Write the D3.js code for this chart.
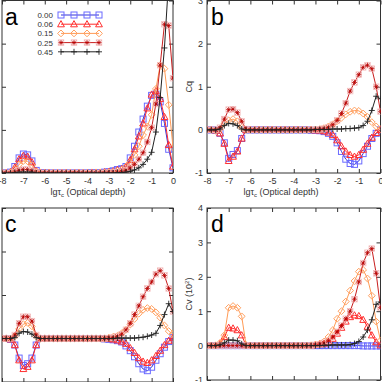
<!DOCTYPE html>
<html lang="en">
<head>
<meta charset="UTF-8">
<title>Optical depth panels</title>
<script src="https://cdn.jsdelivr.net/npm/d3@7"></script>
<style>
  body { margin: 0; background: #fff; }
  svg { display: block; font-family: "Liberation Sans", Arial, sans-serif; }
  .axis text { fill: #333; font-size: 9px; }
  .axis line { stroke: #333; }
</style>
</head>
<body>
<div id="container"></div>
<script>
// x grid (lg tau_c)
const lgTau = [-8,-7.8,-7.6,-7.4,-7.2,-7,-6.8,-6.6,-6.4,-6.2,-6,-5.8,-5.6,-5.4,-5.2,-5,-4.8,-4.6,-4.4,-4.2,
               -4,-3.8,-3.6,-3.4,-3.2,-3,-2.8,-2.6,-2.4,-2.2,-2,-1.8,-1.6,-1.4,-1.2,-1,-0.8,-0.6,-0.4,-0.2,0];
const seriesNames = ["0.00","0.06","0.15","0.25","0.45"];
const xTicks = [-8,-7,-6,-5,-4,-3,-2,-1,0];
const yTicksA = [0,1,2,3,4];
const yTicksBC = [-1,0,1,2,3];
const yTicksD = [-1,0,1,2,3,4];

// panel a
const a000 = [0,0,0.02,0.15,0.35,0.44,0.42,0.28,0.06,0.01, 0,0,0,0,0,0,0,0,0,0,
              0,0.01,0.01,0.01,0.02,0.03,0.05,0.08,0.1,0.15, 0.35,0.62,0.95,1.25,1.55,1.8,1.83,1.65,1.15,0.55, 0.12];
const a006 = [0,0,0.02,0.13,0.32,0.4,0.38,0.25,0.05,0.01, 0,0,0,0,0,0,0,0,0,0,
              0,0.01,0.01,0.01,0.02,0.03,0.04,0.07,0.09,0.14, 0.3,0.55,0.85,1.15,1.5,1.82,1.9,1.72,1.3,0.65, 0.15];
const a015 = [0,0,0.01,0.08,0.2,0.28,0.27,0.18,0.04,0.01, 0,0,0,0,0,0,0,0,0,0,
              0,0,0.01,0.01,0.01,0.02,0.03,0.05,0.08,0.15, 0.25,0.42,0.62,0.88,1.08,1.35,1.95,2.5,2.42,1.58, 0.6];
const a025 = [0,0,0,0.02,0.06,0.08,0.08,0.05,0.01,0, 0,0,0,0,0,0,0,0,0,0,
              0,0,0,0,0,0.01,0.01,0.02,0.03,0.06, 0.12,0.2,0.32,0.47,0.72,1.05,1.6,2.5,3.45,3.42, 2.2];
const a045 = [0,0,0,0.01,0.02,0.02,0.02,0.02,0,0, 0,0,0,0,0,0,0,0,0,0,
              0,0,0,0,0,0,0,0.01,0.01,0.02, 0.04,0.07,0.12,0.2,0.32,0.48,0.95,1.75,2.9,4.5, 6];

// panel b (Cq)
const b000 = [0,0,-0.01,-0.08,-0.3,-0.66,-0.57,-0.48,-0.2,0, 0,0,0,0,0,0,0,0,0,0,
              0,0,0,0,-0.01,-0.01,-0.02,-0.04,-0.08,-0.15, -0.3,-0.5,-0.68,-0.78,-0.8,-0.72,-0.55,-0.38,-0.2,-0.08, 0];
const b006 = [0,0,-0.01,-0.08,-0.32,-0.72,-0.62,-0.5,-0.2,0, 0,0,0,0,0,0,0,0,0,0,
              0,0,0,0,0,-0.01,-0.01,-0.03,-0.06,-0.12, -0.24,-0.38,-0.5,-0.58,-0.62,-0.58,-0.46,-0.32,-0.18,-0.07, 0];
const b015 = [0,0,-0.02,0.02,0.15,0.22,0.25,0.2,0.05,0, 0,0,0,0,0,0,0,0,0,0,
              0,0,0,0,0,0.01,0.02,0.04,0.08,0.13, 0.2,0.28,0.36,0.42,0.45,0.44,0.38,0.3,0.18,0.08, 0.02];
const b025 = [0,0,0,0.05,0.25,0.47,0.48,0.4,0.2,0.02, 0,0,0,0,0,0,0,0,0,0,
              0,0,0,0,0,0,0.01,0.03,0.06,0.12, 0.22,0.38,0.62,0.9,1.1,1.28,1.45,1.5,1.42,1, 0.42];
const b045 = [0,0,0,0.02,0.1,0.15,0.14,0.1,0.02,0, 0,0,0,0,0,0,0,0,0,0,
              0,0,0,0,0,0.01,0.01,0.01,0.01,0.02, 0.02,0.02,0.03,0.03,0.04,0.05,0.1,0.2,0.45,0.78, 0.72];

// panel c
const c000 = [0,0,-0.02,-0.15,-0.45,-0.62,-0.58,-0.45,-0.15,0, 0,0,0,0,0,0,0,0,0,0,
              0,0,0,0,-0.01,-0.02,-0.03,-0.05,-0.08,-0.17, -0.28,-0.42,-0.58,-0.7,-0.74,-0.66,-0.5,-0.35,-0.2,-0.07, 0.02];
const c006 = [0,0,-0.02,-0.15,-0.5,-0.7,-0.65,-0.5,-0.15,0, 0,0,0,0,0,0,0,0,0,0,
              0,0,0,0,0,-0.01,-0.02,-0.04,-0.07,-0.12, -0.22,-0.33,-0.45,-0.53,-0.56,-0.5,-0.4,-0.28,-0.15,-0.05, 0.02];
const c015 = [0,0,0,0.05,0.22,0.33,0.36,0.28,0.05,0, 0,0,0,0,0,0,0,0,0,0,
              0,0,0,0,0,0.02,0.04,0.06,0.12,0.2, 0.32,0.45,0.57,0.66,0.7,0.68,0.6,0.48,0.3,0.17, 0.1];
const c025 = [0,0,0,0.08,0.35,0.5,0.5,0.4,0.08,0, 0,0,0,0,0,0,0,0,0,0,
              0,0,0,0,0,0.01,0.02,0.05,0.1,0.2, 0.35,0.55,0.75,0.96,1.15,1.3,1.48,1.56,1.45,1.15, 0.62];
const c045 = [0,0,0,0.02,0.12,0.16,0.15,0.1,0.02,0, 0,0,0,0,0,0,0,0,0,0,
              0,0,0,0,0,0,0,0.01,0.01,0.01, 0.01,0.01,0.02,0.03,0.05,0.08,0.12,0.3,0.55,0.8, 0.62];

// panel d (Cv, 10^2)
const d000 = [0,0,0,0,0,0,0,0,0,0, 0,0,0,0,0,0,0,0,0,0,
              0,0,0,0,0,0,0,0,0,0, 0,0,0,0,0,0,-0.01,-0.01,-0.01,-0.01, -0.01];
const d006 = [0,0,0,0.05,0.25,0.52,0.5,0.45,0.3,0, 0,0,0,0,0,0,0,0,0,0,
              0,0,0,0,0,0.02,0.04,0.06,0.12,0.2, 0.35,0.52,0.7,0.83,0.88,0.86,0.75,0.55,0.3,0.1, 0.01];
const d015 = [0,0,0.01,0.08,0.3,1.1,1.15,1.1,0.85,0.02, 0,0,0,0,0,0,0,0,0,0,
              0,0,0,0,0.01,0.03,0.06,0.12,0.25,0.45, 0.78,1,1.28,1.6,1.88,2.15,2.2,1.95,1.45,0.7, 0.15];
const d025 = [0,0,0,0,0,0,0,0,0,0, 0,0,0,0,0,0,0,0,0,0,
              0,0,0,0,0,0.02,0.04,0.08,0.14,0.25, 0.4,0.58,0.78,1,1.35,1.85,2.4,2.7,2.82,2.1, 1.1];
const d045 = [0,0,0,0.02,0.08,0.16,0.16,0.14,0.05,0, 0,0,0,0,0,0,0,0,0,0,
              0,0,0,0,0,0,0,0.01,0.01,0.02, 0.02,0.02,0.02,0.03,0.06,0.12,0.25,0.45,0.75,1.2, 1.27];

// series styles, same order as seriesNames
const styles = [
  {line: "#3232d8", mark: "#6a6aff", shape: "square"},
  {line: "#ff2a2a", mark: "#ff3030", shape: "triangle"},
  {line: "#ff9a55", mark: "#ffa060", shape: "diamond"},
  {line: "#c81e1e", mark: "#b80000", shape: "asterisk"},
  {line: "#222222", mark: "#222222", shape: "plus"}
];

const width = 382, height = 382;
const svg = d3.select("#container").append("svg")
    .attr("width", width).attr("height", height);

// only b and d show their y tick labels, only a and b their x tick labels
const panels = [
  {id: "a", left: 2, right: 173, top: 0.5, bottom: 173, yDomain: [0, 4], yTicks: yTicksA,
   series: [a000, a006, a015, a025, a045], xLabel: true, xLabelX: 88, legend: true, xNums: true, yNums: false},
  {id: "b", left: 207, right: 380.5, top: 0.5, bottom: 173, yDomain: [-1, 3], yTicks: yTicksBC,
   series: [b000, b006, b015, b025, b045], xLabel: true, xLabelX: 281, yLabel: "Cq", xNums: true, yNums: true},
  {id: "c", left: 2, right: 173, top: 208, bottom: 382, yDomain: [-1, 3], yTicks: yTicksBC,
   series: [c000, c006, c015, c025, c045], xNums: false, yNums: false},
  {id: "d", left: 207, right: 380.5, top: 208, bottom: 380, yDomain: [-1, 4], yTicks: yTicksD,
   series: [d000, d006, d015, d025, d045], yLabel: "Cv", xNums: false, yNums: true}
];

function drawMarker(g, shape, color, cx, cy) {
  if (shape === "square") {
    g.append("rect").attr("x", cx - 3).attr("y", cy - 3).attr("width", 6).attr("height", 6)
      .attr("fill", "none").attr("stroke", color).attr("stroke-width", 1);
  } else if (shape === "triangle") {
    g.append("path").attr("d", `M${cx},${cy - 3.6}L${cx + 3.4},${cy + 2.6}L${cx - 3.4},${cy + 2.6}Z`)
      .attr("fill", "none").attr("stroke", color).attr("stroke-width", 1);
  } else if (shape === "diamond") {
    g.append("path").attr("d", `M${cx},${cy - 3.4}L${cx + 3.4},${cy}L${cx},${cy + 3.4}L${cx - 3.4},${cy}Z`)
      .attr("fill", "none").attr("stroke", color).attr("stroke-width", 1);
  } else if (shape === "asterisk") {
    g.append("rect").attr("x", cx - 2.8).attr("y", cy - 2.8).attr("width", 5.6).attr("height", 5.6)
      .attr("fill", "none").attr("stroke", "#f4b4b4").attr("stroke-width", 0.7);
    g.append("path").attr("d", `M${cx - 2.5},${cy}H${cx + 2.5}M${cx},${cy - 2.5}V${cy + 2.5}M${cx - 1.9},${cy - 1.9}L${cx + 1.9},${cy + 1.9}M${cx - 1.9},${cy + 1.9}L${cx + 1.9},${cy - 1.9}`)
      .attr("stroke", color).attr("stroke-width", 0.8);
  } else {
    g.append("path").attr("d", `M${cx - 3},${cy}H${cx + 3}M${cx},${cy - 3}V${cy + 3}`)
      .attr("stroke", color).attr("stroke-width", 0.9);
  }
}

panels.forEach(p => {
  const xScale = d3.scaleLinear().domain([-8, 0]).range([p.left, p.right]);
  const yScale = d3.scaleLinear().domain(p.yDomain).range([p.bottom, p.top]);

  svg.append("clipPath").attr("id", "clip-" + p.id)
    .append("rect").attr("x", p.left).attr("y", p.top)
    .attr("width", p.right - p.left).attr("height", p.bottom - p.top);

  // axes: ticks point inward on all four sides
  const bottomAxis = svg.append("g").attr("class", "axis")
      .attr("transform", `translate(0,${p.bottom})`)
      .call(d3.axisBottom(xScale).tickValues(xTicks).tickSize(-4).tickSizeOuter(0)
        .tickPadding(5).tickFormat(d => p.xNums ? String(d) : ""));
  const topAxis = svg.append("g").attr("class", "axis")
      .attr("transform", `translate(0,${p.top})`)
      .call(d3.axisTop(xScale).tickValues(xTicks).tickSize(-4).tickSizeOuter(0).tickFormat(""));
  const leftAxis = svg.append("g").attr("class", "axis")
      .attr("transform", `translate(${p.left},0)`)
      .call(d3.axisLeft(yScale).tickValues(p.yTicks).tickSize(-4).tickSizeOuter(0)
        .tickPadding(4).tickFormat(d => p.yNums ? String(d) : ""));
  const rightAxis = svg.append("g").attr("class", "axis")
      .attr("transform", `translate(${p.right},0)`)
      .call(d3.axisRight(yScale).tickValues(p.yTicks).tickSize(-4).tickSizeOuter(0).tickFormat(""));
  [bottomAxis, topAxis, leftAxis, rightAxis].forEach(ax => ax.select(".domain").remove());

  // frame
  svg.append("rect").attr("x", p.left).attr("y", p.top)
    .attr("width", p.right - p.left).attr("height", p.bottom - p.top)
    .attr("fill", "none").attr("stroke", "#333").attr("stroke-width", 1);

  // series
  const plot = svg.append("g").attr("clip-path", `url(#clip-${p.id})`);
  const lineGen = d3.line().x((d, i) => xScale(lgTau[i])).y(d => yScale(d));
  p.series.forEach((vals, k) => {
    const st = styles[k];
    plot.append("path").attr("d", lineGen(vals))
      .attr("fill", "none").attr("stroke", st.line).attr("stroke-width", 1);
    const mg = plot.append("g");
    vals.forEach((v, i) => drawMarker(mg, st.shape, st.mark, xScale(lgTau[i]), yScale(v)));
  });

  // panel letter
  svg.append("text").attr("x", p.left + (p.id === "a" || p.id === "c" ? 3 : 4))
    .attr("y", p.top + 24).attr("font-size", 23).attr("fill", "#000").text(p.id);

  // x label
  if (p.xLabel) {
    const t = svg.append("text").attr("x", p.xLabelX).attr("y", 195)
      .attr("text-anchor", "middle").attr("font-size", 9).attr("fill", "#333");
    t.append("tspan").text("lgτ");
    t.append("tspan").attr("font-size", 6).attr("dy", 2).text("c");
    t.append("tspan").attr("dy", -2).text(" (Optical depth)");
  }

  // y label on the right-hand panels
  if (p.yLabel) {
    const cy = (p.top + p.bottom) / 2;
    const t = svg.append("text").attr("transform", `translate(192,${cy}) rotate(-90)`)
      .attr("text-anchor", "middle").attr("font-size", 9).attr("fill", "#333");
    if (p.yLabel === "Cq") {
      t.text("Cq");
    } else {
      t.append("tspan").text("Cv (10");
      t.append("tspan").attr("font-size", 6).attr("dy", -3).text("2");
      t.append("tspan").attr("dy", 3).text(")");
    }
  }

  // legend
  if (p.legend) {
    const legend = svg.append("g").attr("class", "legend");
    seriesNames.forEach((name, k) => {
      const ly = 15 + k * 9.2;
      const st = styles[k];
      legend.append("text").attr("x", 53).attr("y", ly + 3).attr("text-anchor", "end")
        .attr("font-size", 8).attr("fill", "#333").text(name);
      legend.append("line").attr("x1", 61).attr("x2", 99).attr("y1", ly).attr("y2", ly)
        .attr("stroke", st.line).attr("stroke-width", 1);
      [61, 74, 87, 99].forEach(lx => drawMarker(legend, st.shape, st.mark, lx, ly));
    });
  }
});
</script>
</body>
</html>
